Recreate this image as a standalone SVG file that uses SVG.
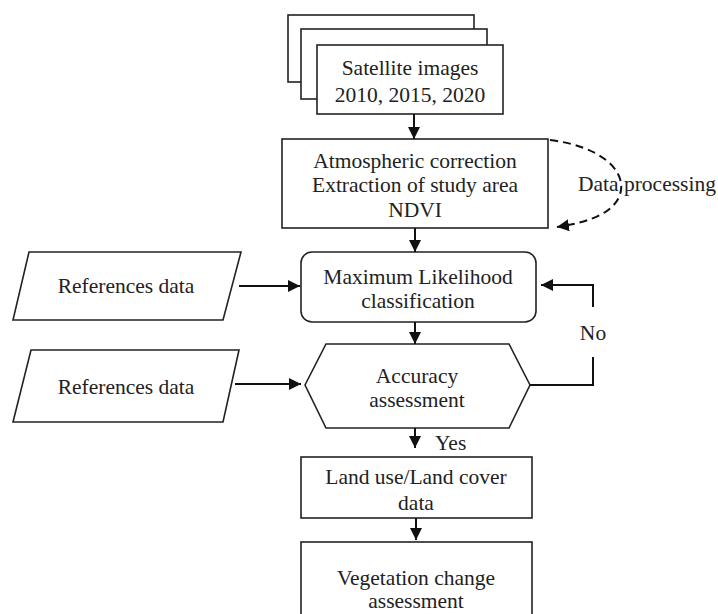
<svg xmlns="http://www.w3.org/2000/svg" width="718" height="614" viewBox="0 0 718 614">
<style>
.box{fill:#fff;stroke:#222;stroke-width:1.6}
.t{font-family:"Liberation Serif","Times New Roman",serif;font-size:21.5px;fill:#222;text-anchor:middle}
.c{fill:none;stroke:#111;stroke-width:2}
.d{fill:none;stroke:#111;stroke-width:2;stroke-dasharray:8 5}
</style>
<defs>
<marker id="ah" markerUnits="userSpaceOnUse" markerWidth="12" markerHeight="12" viewBox="0 0 12 12" refX="12" refY="6" orient="auto">
<path d="M0,0 L12,6 L0,12 z" fill="#111"/>
</marker>
</defs>
<rect width="718" height="614" fill="#fff"/>
<g id="satellite">
<rect class="box" x="288" y="15" width="186" height="67"/>
<rect class="box" x="301" y="29" width="186" height="70"/>
<rect class="box" x="317" y="45" width="186" height="69"/>
<text class="t" x="410" y="75">Satellite images</text>
<text class="t" x="410" y="102">2010, 2015, 2020</text>
</g>
<g id="preprocess">
<rect class="box" x="282" y="139" width="266" height="89"/>
<text class="t" x="415" y="168">Atmospheric correction</text>
<text class="t" x="415" y="192">Extraction of study area</text>
<text class="t" x="415" y="217">NDVI</text>
</g>
<g id="dataprocessing">
<text class="t" x="578" y="191" style="text-anchor:start">Data processing</text>
</g>
<g id="refdata1">
<polygon class="box" points="29,252 241,252 223,320 13,320"/>
<text class="t" x="126" y="293">References data</text>
</g>
<g id="mlc">
<rect class="box" x="301" y="252" width="235" height="70" rx="11"/>
<text class="t" x="418" y="284">Maximum Likelihood</text>
<text class="t" x="418" y="308">classification</text>
</g>
<g id="refdata2">
<polygon class="box" points="31,350 239,350 223,422 13,422"/>
<text class="t" x="126" y="394">References data</text>
</g>
<g id="accuracy">
<polygon class="box" points="305,385 326,344 509,344 530,385 509,428 326,428"/>
<text class="t" x="417" y="383">Accuracy</text>
<text class="t" x="417" y="407">assessment</text>
</g>
<g id="lulc">
<rect class="box" x="301" y="457" width="231" height="61"/>
<text class="t" x="416" y="484">Land use/Land cover</text>
<text class="t" x="416" y="510">data</text>
</g>
<g id="vegetation">
<rect class="box" x="301" y="542" width="231" height="80"/>
<text class="t" x="416" y="585">Vegetation change</text>
<text class="t" x="416" y="608">assessment</text>
</g>
<g id="connectors">
<line class="c" x1="414" y1="114" x2="414" y2="139" marker-end="url(#ah)"/>
<path class="d" d="M550,140 C598,146 624,168 621,190 C618,211 592,222 557,227" marker-end="url(#ah)"/>
<line class="c" x1="415" y1="228" x2="415" y2="252" marker-end="url(#ah)"/>
<line class="c" x1="239" y1="286" x2="300" y2="286" marker-end="url(#ah)"/>
<line class="c" x1="415" y1="322" x2="415" y2="344" marker-end="url(#ah)"/>
<line class="c" x1="235" y1="384" x2="301" y2="384" marker-end="url(#ah)"/>
<polyline class="c" points="530,385 593,385 593,357"/>
<polyline class="c" points="593,307 593,285 541,285" marker-end="url(#ah)"/>
<text class="t" x="593" y="340">No</text>
<line class="c" x1="415" y1="428" x2="415" y2="448" marker-end="url(#ah)"/>
<text class="t" x="435" y="450" style="text-anchor:start">Yes</text>
<line class="c" x1="416" y1="518" x2="416" y2="540" marker-end="url(#ah)"/>
</g>
</svg>
